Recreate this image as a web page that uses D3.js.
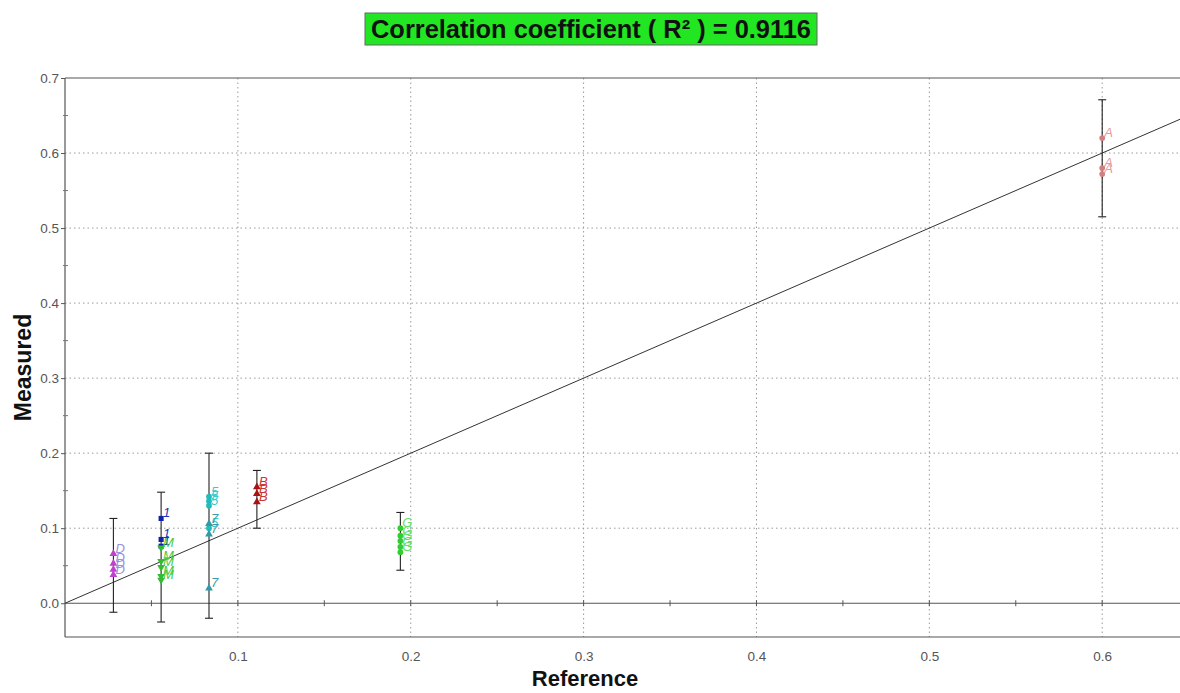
<!DOCTYPE html>
<html>
<head>
<meta charset="utf-8">
<script src="https://cdn.jsdelivr.net/npm/d3@7"></script>
<style>
  html, body { margin: 0; padding: 0; background: #fff; }
  svg { display: block; font-family: "Liberation Sans", Arial, sans-serif; }
</style>
</head>
<body>
<svg id="chart" width="1180" height="693"></svg>
<script>
// Axis ticks
const xTickValues = [0.1, 0.2, 0.3, 0.4, 0.5, 0.6];
const yTickValues = [0.0, 0.1, 0.2, 0.3, 0.4, 0.5, 0.6, 0.7];
const minorStep = 0.05;

// Title statistic
const rSquared = 0.9116;

// Each sample: reference value and the spread of measured results
const sampleRefs = [0.028, 0.0556, 0.0833, 0.111, 0.194, 0.6];
const sampleLow  = [-0.012, -0.025, -0.02, 0.1, 0.044, 0.515];
const sampleHigh = [0.113, 0.148, 0.2, 0.177, 0.121, 0.671];

// Measured results per laboratory (label, reference, measured values)
const labD = ["D", 0.028, [0.066, 0.053, 0.045, 0.038]];
const lab1 = ["1", 0.0556, [0.113, 0.085, 0.076]];
const labM = ["M", 0.0556, [0.074, 0.056, 0.048, 0.036, 0.031]];
const lab5 = ["5", 0.0833, [0.142, 0.136, 0.13, 0.1]];
const lab7 = ["7", 0.0833, [0.106, 0.092, 0.02]];
const labB = ["B", 0.111, [0.155, 0.146, 0.135]];
const labG = ["G", 0.194, [0.1, 0.09, 0.083, 0.075, 0.068]];
const labA = ["A", 0.6, [0.62, 0.58, 0.572]];
const labs = [labD, lab1, labM, lab5, lab7, labB, labG, labA];

// Marker look per laboratory
const labStyle = {
  D: { text: "#9b8fe0", mark: "#c040d0", shape: d3.symbolTriangle },
  "1": { text: "#2233bb", mark: "#1122aa", shape: d3.symbolSquare },
  M: { text: "#44cc44", mark: "#33bb33", shape: d3.symbolTriangle, flip: true },
  "5": { text: "#33cccc", mark: "#22bbbb", shape: d3.symbolCircle },
  "7": { text: "#3a9aa8", mark: "#3399aa", shape: d3.symbolTriangle },
  B: { text: "#cc3333", mark: "#aa1111", shape: d3.symbolTriangle },
  G: { text: "#66dd66", mark: "#33cc33", shape: d3.symbolCircle },
  A: { text: "#e89a9a", mark: "#d08080", shape: d3.symbolCircle }
};

const svg = d3.select("#chart");
const plot = { left: 65, right: 1180, top: 78, bottom: 637 };

const x = d3.scaleLinear().domain([0, 0.645]).range([plot.left, plot.right]);
const y = d3.scaleLinear().domain([-0.045, 0.7]).range([plot.bottom, plot.top]);

// Title with green banner
const title = svg.append("g");
title.append("rect")
  .attr("x", 365).attr("y", 13).attr("width", 452).attr("height", 32)
  .attr("fill", "#22e622").attr("stroke", "#666").attr("stroke-width", 1);
title.append("text")
  .attr("x", 591).attr("y", 38)
  .attr("text-anchor", "middle")
  .attr("font-size", 25).attr("font-weight", "bold").attr("fill", "#111")
  .attr("textLength", 440).attr("lengthAdjust", "spacingAndGlyphs")
  .text(`Correlation coefficient ( R\u00B2 ) = ${rSquared.toFixed(4)}`);

// Dotted grid
const grid = svg.append("g").attr("stroke", "#9a9a9a").attr("stroke-dasharray", "1.5,3").attr("stroke-width", 1);
grid.selectAll("line.v").data(xTickValues).join("line")
  .attr("x1", d => x(d)).attr("x2", d => x(d))
  .attr("y1", plot.top).attr("y2", plot.bottom);
grid.selectAll("line.h").data(yTickValues.filter(v => v > 0 && v < 0.7)).join("line")
  .attr("x1", plot.left).attr("x2", plot.right)
  .attr("y1", d => y(d)).attr("y2", d => y(d));

// Frame
const frame = svg.append("g").attr("stroke", "#555").attr("stroke-width", 1.2).attr("fill", "none");
frame.append("line").attr("x1", plot.left).attr("x2", plot.right).attr("y1", plot.top).attr("y2", plot.top);
frame.append("line").attr("x1", plot.left).attr("x2", plot.right).attr("y1", plot.bottom).attr("y2", plot.bottom);
frame.append("line").attr("x1", plot.left).attr("x2", plot.left).attr("y1", plot.top).attr("y2", plot.bottom);

// Zero line with minor ticks
frame.append("line").attr("x1", plot.left).attr("x2", plot.right).attr("y1", y(0)).attr("y2", y(0));
const xMinor = d3.range(minorStep, 0.645, minorStep);
svg.append("g").attr("stroke", "#555").selectAll("line").data(xMinor).join("line")
  .attr("x1", d => x(d)).attr("x2", d => x(d))
  .attr("y1", y(0) - 3).attr("y2", y(0) + 3);

// Y axis ticks and labels
const yAxis = d3.axisLeft(y).tickValues(yTickValues).tickFormat(d3.format(".1f")).tickSize(4).tickPadding(2);
const gy = svg.append("g").attr("transform", `translate(${plot.left},0)`).call(yAxis);
gy.select(".domain").remove();
gy.selectAll(".tick line").attr("stroke", "#555");
gy.selectAll(".tick text").attr("fill", "#555").attr("font-size", 13.5)
  .attr("font-family", "Liberation Sans, Arial, sans-serif");
const yMinor = d3.range(minorStep, 0.7, 0.1);
svg.append("g").attr("stroke", "#777").selectAll("line").data(yMinor).join("line")
  .attr("x1", plot.left - 2).attr("x2", plot.left + 3)
  .attr("y1", d => y(d)).attr("y2", d => y(d));

// X axis labels below frame
const xAxis = d3.axisBottom(x).tickValues(xTickValues).tickFormat(d3.format(".1f")).tickSize(0).tickPadding(14);
const gx = svg.append("g").attr("transform", `translate(0,${plot.bottom})`).call(xAxis);
gx.select(".domain").remove();
gx.selectAll(".tick text").attr("fill", "#555").attr("font-size", 13.5)
  .attr("font-family", "Liberation Sans, Arial, sans-serif");

// Axis titles
svg.append("text")
  .attr("transform", `translate(31,${(plot.top + plot.bottom) / 2 + 10}) rotate(-90)`)
  .attr("text-anchor", "middle").attr("font-size", 23).attr("font-weight", "bold").attr("fill", "#111")
  .text("Measured");
svg.append("text")
  .attr("x", 585).attr("y", 686)
  .attr("text-anchor", "middle").attr("font-size", 22).attr("font-weight", "bold").attr("fill", "#111")
  .text("Reference");

// Identity line y = x
const clipEnd = 0.645;
svg.append("line")
  .attr("x1", x(0)).attr("y1", y(0))
  .attr("x2", x(clipEnd)).attr("y2", y(clipEnd))
  .attr("stroke", "#333").attr("stroke-width", 1);

// Error bars for each sample
const bars = svg.append("g").attr("stroke", "#222").attr("stroke-width", 1.1);
sampleRefs.forEach((r, i) => {
  const cx = x(r);
  bars.append("line").attr("x1", cx).attr("x2", cx).attr("y1", y(sampleLow[i])).attr("y2", y(sampleHigh[i]));
  [sampleLow[i], sampleHigh[i]].forEach(v => {
    bars.append("line").attr("x1", cx - 4).attr("x2", cx + 4).attr("y1", y(v)).attr("y2", y(v));
  });
});

// Laboratory results: marker plus label
const pts = svg.append("g");
labs.forEach(([label, ref, values]) => {
  const st = labStyle[label];
  const sym = d3.symbol().type(st.shape).size(26);
  values.forEach(v => {
    const cx = x(ref), cy = y(v);
    pts.append("path")
      .attr("d", sym())
      .attr("transform", `translate(${cx},${cy})${st.flip ? " rotate(180)" : ""}`)
      .attr("fill", st.mark);
    pts.append("text")
      .attr("x", cx + 2).attr("y", cy - 1)
      .attr("font-size", 13).attr("font-style", "italic").attr("fill", st.text)
      .text(label);
  });
});
</script>
</body>
</html>
